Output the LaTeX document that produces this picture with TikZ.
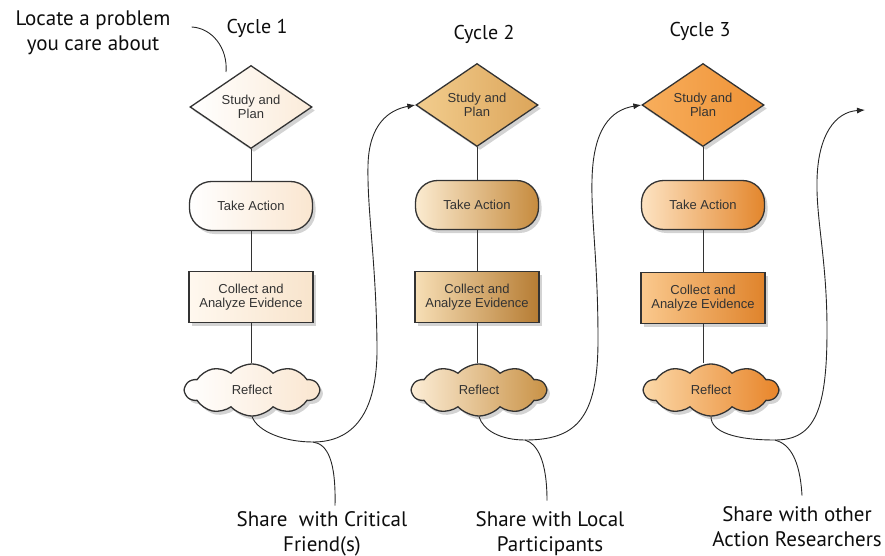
\documentclass[tikz,border=0pt]{standalone}
\usepackage{fontspec}
\setmainfont{Liberation Sans}
\newfontfamily\labfont{PT Sans}
\usetikzlibrary{shapes.geometric,shapes.symbols,shadows,arrows.meta}
\definecolor{ink}{HTML}{333333}
\definecolor{aR}{HTML}{FBEBD9}
\definecolor{bR}{HTML}{FAE6D0}
\definecolor{cL}{HTML}{FFF8EF}
\definecolor{cR}{HTML}{F8E4CC}
\definecolor{dL}{HTML}{F2CD8E}
\definecolor{dR}{HTML}{DCA55A}
\definecolor{eL}{HTML}{FBEBD0}
\definecolor{eR}{HTML}{C68B3E}
\definecolor{fL}{HTML}{F7DFB6}
\definecolor{fR}{HTML}{B67C33}
\definecolor{gL}{HTML}{FCEDD6}
\definecolor{gR}{HTML}{C99246}
\definecolor{hL}{HTML}{F8AE5C}
\definecolor{hR}{HTML}{EE9236}
\definecolor{iL}{HTML}{FDE3C2}
\definecolor{iR}{HTML}{E3862C}
\definecolor{kL}{HTML}{FAC98E}
\definecolor{kR}{HTML}{DF832B}
\definecolor{mL}{HTML}{FBD8A8}
\definecolor{mR}{HTML}{E8852A}
\begin{document}
\begin{tikzpicture}[x=1pt,y=-1pt,
 base/.style={draw=ink, line width=1.3pt, text=black!80, font=\fontsize{13}{14}\selectfont, align=center,
   drop shadow={opacity=0.35,shadow xshift=3pt,shadow yshift=-3.5pt}},
 dia/.style={base, diamond, minimum width=122pt, minimum height=83pt, inner sep=0pt},
 act/.style={base, rectangle, rounded corners=22pt, minimum width=123pt, minimum height=49pt},
 boxx/.style={base, rectangle, minimum width=124pt, minimum height=51pt},
 refl/.style={base, cloud, cloud puffs=10, cloud puff arc=95, cloud ignores aspect, shape border rotate=18, minimum width=134pt, minimum height=52pt},
 link/.style={draw=ink, line width=0.9pt},
 flow/.style={draw=black!85, line width=0.9pt},
 tip/.style={-{Latex[length=8pt,width=6pt]}},
 lab/.style={font=\labfont\fontsize{21}{25}\selectfont, align=center, text=black!95, inner sep=1pt},
 cyc/.style={lab, font=\labfont\fontsize{20}{25}\selectfont},
]
\useasboundingbox (0,0) rectangle (885,556);

% Cycle 1
\node[dia, left color=white, right color=aR] (d1) at (251,107) {Study and\\Plan};
\node[act, left color=white, right color=bR] (t1) at (251,206) {Take Action};
\node[boxx, left color=cL, right color=cR] (c1) at (251,297) {Collect and\\Analyze Evidence};
\node[refl, left color=white, right color=bR] (r1) at (252,390) {Reflect};

% Cycle 2
\node[dia, left color=dL, right color=dR] (d2) at (477,105) {Study and\\Plan};
\node[act, left color=eL, right color=eR] (t2) at (477,205) {Take Action};
\node[boxx, left color=fL, right color=fR] (c2) at (477,297) {Collect and\\Analyze Evidence};
\node[refl, left color=gL, right color=gR] (r2) at (479,390) {Reflect};

% Cycle 3
\node[dia, left color=hL, right color=hR] (d3) at (703,105) {Study and\\Plan};
\node[act, left color=iL, right color=iR] (t3) at (703,205) {Take Action};
\node[boxx, left color=kL, right color=kR] (c3) at (703,298) {Collect and\\Analyze Evidence};
\node[refl, left color=mL, right color=mR] (r3) at (711,390) {Reflect};

% vertical links
\foreach \i in {1,2,3}{
  \draw[link] (d\i.south) -- (t\i.north);
  \draw[link] (t\i.south) -- (c\i.north);
  \draw[link] (c\i.south) -- (c\i.south |- r\i.north);
}

% labels
\node[cyc] (cy1) at (257,28) {Cycle 1};
\node[cyc] (cy2) at (484,34) {Cycle 2};
\node[cyc] (cy3) at (700,31) {Cycle 3};
\node[lab] (loc) at (93,33) {Locate a problem\\you care about};
\node[lab] (s1) at (322,534) {Share\ \ with Critical\\Friend(s)};
\node[lab] (s2) at (550,534) {Share with Local\\Participants};
\node[lab] (s3) at (797,527) {Share with other\\Action Researchers};

% locate pointer
\coordinate (lp) at (226,72);
\draw[flow] ([xshift=20pt,yshift=6pt]loc.east) .. controls (212,28) and (228,48) .. (lp);

% junctions and free end
\coordinate (j1) at (313,442);
\coordinate (j2) at (525,440);
\coordinate (j3) at (775,440);
\coordinate (e3) at (865,110);

% sharing curves
\draw[flow,tip] (r1.south) .. controls (258,432) and (285,442) .. (j1)
  .. controls (352,442) and (378,415) .. (377,345)
  .. controls (376,260) and (367,210) .. (368,165)
  .. controls (369,125) and (388,110) .. (d2.west);
\draw[flow] (j1) .. controls (328,444) and (336,462) .. ([xshift=13pt,yshift=5pt]s1.north);

\draw[flow,tip] (r2.south) .. controls (483,430) and (500,440) .. (j2)
  .. controls (575,440) and (598,420) .. (598,340)
  .. controls (598,260) and (591,220) .. (592,180)
  .. controls (593,130) and (610,110) .. (d3.west);
\draw[flow] (j2) .. controls (538,444) and (547,462) .. ([xshift=-3pt,yshift=10pt]s2.north);

\draw[flow,tip] (r3.south) .. controls (711,432) and (735,440) .. (j3)
  .. controls (815,440) and (827,410) .. (827,330)
  .. controls (827,260) and (816,220) .. (817,180)
  .. controls (818,135) and (835,112) .. (e3);
\draw[flow] (j3) .. controls (790,444) and (800,460) .. ([xshift=5pt,yshift=10pt]s3.north);
\end{tikzpicture}
\end{document}
